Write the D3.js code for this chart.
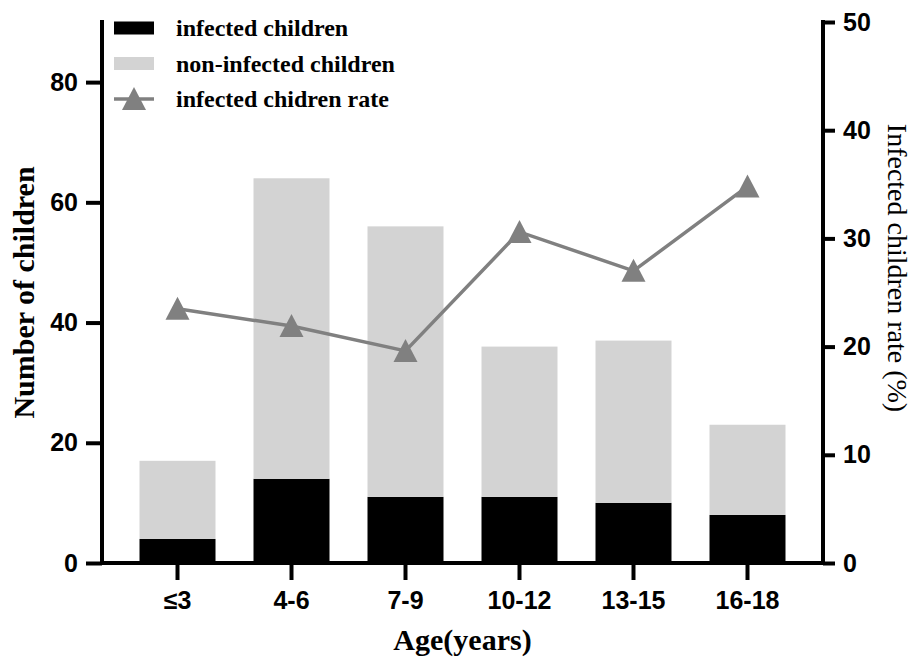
<!DOCTYPE html>
<html>
<head>
<meta charset="utf-8">
<script src="https://cdn.jsdelivr.net/npm/d3@7"></script>
<style>
  html, body { margin: 0; padding: 0; background: #fff; }
  svg { display: block; }
</style>
</head>
<body>
<svg id="chart" width="921" height="662"></svg>
<script>
// Age groups and counts per group
const ageGroups = ["≤3", "4-6", "7-9", "10-12", "13-15", "16-18"];
const infected = [4, 14, 11, 11, 10, 8];
const totalChildren = [17, 64, 56, 36, 37, 23];
const nonInfected = totalChildren.map((t, i) => t - infected[i]);
// Infection rate (%) for each group
const infectedRate = [23.5, 21.9, 19.6, 30.6, 27.0, 34.8];

const leftTicks = [0, 20, 40, 60, 80];
const rightTicks = [0, 10, 20, 30, 40, 50];

const svg = d3.select("#chart");
const plot = { left: 102, right: 823, top: 22, bottom: 563 };

const tickFont = "'Liberation Sans', Arial, sans-serif";
const titleFont = "'Liberation Serif', 'Times New Roman', serif";

const x = d3.scaleBand()
  .domain(ageGroups)
  .range([plot.left, plot.right])
  .paddingInner(1 / 3)
  .paddingOuter(0.329);

const yLeft = d3.scaleLinear().domain([0, 90]).range([plot.bottom, plot.top]);
const yRight = d3.scaleLinear().domain([0, 50]).range([plot.bottom, plot.top]);

const rows = ageGroups.map((g, i) => ({
  group: g,
  infected: infected[i],
  nonInfected: nonInfected[i],
  rate: infectedRate[i]
}));

const stack = d3.stack().keys(["infected", "nonInfected"]);
const layers = stack(rows);
const barColors = { infected: "#000000", nonInfected: "#d3d3d3" };

// Stacked bars
svg.append("g").selectAll("g")
  .data(layers)
  .join("g")
  .attr("fill", d => barColors[d.key])
  .selectAll("rect")
  .data(d => d)
  .join("rect")
  .attr("x", d => x(d.data.group))
  .attr("width", x.bandwidth())
  .attr("y", d => yLeft(d[1]))
  .attr("height", d => yLeft(d[0]) - yLeft(d[1]));

// Rate line
const lineColor = "#808080";
const line = d3.line()
  .x(d => x(d.group) + x.bandwidth() / 2)
  .y(d => yRight(d.rate));

svg.append("path")
  .datum(rows)
  .attr("fill", "none")
  .attr("stroke", lineColor)
  .attr("stroke-width", 3.5)
  .attr("d", line);

const triPath = "M0,-12 L12,11 L-12,11 Z";
svg.append("g").selectAll("path")
  .data(rows)
  .join("path")
  .attr("d", triPath)
  .attr("fill", lineColor)
  .attr("transform", d => `translate(${x(d.group) + x.bandwidth() / 2},${yRight(d.rate)})`);

// Axes
function styleAxis(g) {
  g.selectAll(".domain").attr("stroke", "#000").attr("stroke-width", 4);
  g.selectAll(".tick line").attr("stroke", "#000").attr("stroke-width", 4);
  g.selectAll(".tick text")
    .attr("fill", "#000")
    .style("font-family", tickFont)
    .style("font-weight", "bold")
    .style("font-size", "25px");
}

const leftAxis = svg.append("g")
  .attr("transform", `translate(${plot.left},0)`)
  .call(d3.axisLeft(yLeft).tickValues(leftTicks).tickSize(16).tickSizeOuter(0).tickPadding(8))
  .call(styleAxis);
leftAxis.select(".domain").attr("d", `M0,${plot.top - 2}V${plot.bottom + 2}`);

const rightAxis = svg.append("g")
  .attr("transform", `translate(${plot.right},0)`)
  .call(d3.axisRight(yRight).tickValues(rightTicks).tickSize(12).tickSizeOuter(0).tickPadding(8))
  .call(styleAxis);
rightAxis.select(".domain").attr("d", `M0,${plot.top - 2}V${plot.bottom + 2}`);

const bottomAxis = svg.append("g")
  .attr("transform", `translate(0,${plot.bottom})`)
  .call(d3.axisBottom(x).tickSize(17).tickSizeOuter(0).tickPadding(11))
  .call(styleAxis);
bottomAxis.select(".domain").attr("d", `M${plot.left - 2},0H${plot.right + 2}`);

// Axis titles
svg.append("text")
  .attr("transform", `translate(23,${(plot.top + plot.bottom) / 2}) rotate(-90)`)
  .attr("text-anchor", "middle")
  .attr("dy", "0.35em")
  .style("font-family", titleFont)
  .style("font-weight", "bold")
  .style("font-size", "30px")
  .text("Number of children");

svg.append("text")
  .attr("transform", `translate(898,268) rotate(90)`)
  .attr("text-anchor", "middle")
  .attr("dy", "0.35em")
  .style("font-family", titleFont)
  .style("font-size", "28px")
  .text("Infected children rate (%)");

svg.append("text")
  .attr("x", (plot.left + plot.right) / 2)
  .attr("y", 650)
  .attr("text-anchor", "middle")
  .style("font-family", titleFont)
  .style("font-weight", "bold")
  .style("font-size", "30px")
  .text("Age(years)");

// Legend
const legendItems = [
  { label: "infected children", kind: "bar", color: barColors.infected },
  { label: "non-infected children", kind: "bar", color: barColors.nonInfected },
  { label: "infected chidren rate", kind: "line", color: lineColor }
];
const legend = svg.append("g").attr("transform", "translate(114,28)");
const item = legend.selectAll("g")
  .data(legendItems)
  .join("g")
  .attr("transform", (d, i) => `translate(0,${i * 35.5})`);

item.filter(d => d.kind === "bar").append("rect")
  .attr("x", 0).attr("y", -6.5)
  .attr("width", 40).attr("height", 13)
  .attr("fill", d => d.color);

const lineItem = item.filter(d => d.kind === "line");
lineItem.append("line")
  .attr("x1", 0).attr("x2", 40).attr("y1", 0).attr("y2", 0)
  .attr("stroke", d => d.color).attr("stroke-width", 3.5);
lineItem.append("path")
  .attr("d", triPath)
  .attr("transform", "translate(20,0)")
  .attr("fill", d => d.color);

item.append("text")
  .attr("x", 62)
  .attr("y", 8)
  .style("font-family", titleFont)
  .style("font-weight", "bold")
  .style("font-size", "24px")
  .text(d => d.label);
</script>
</body>
</html>
